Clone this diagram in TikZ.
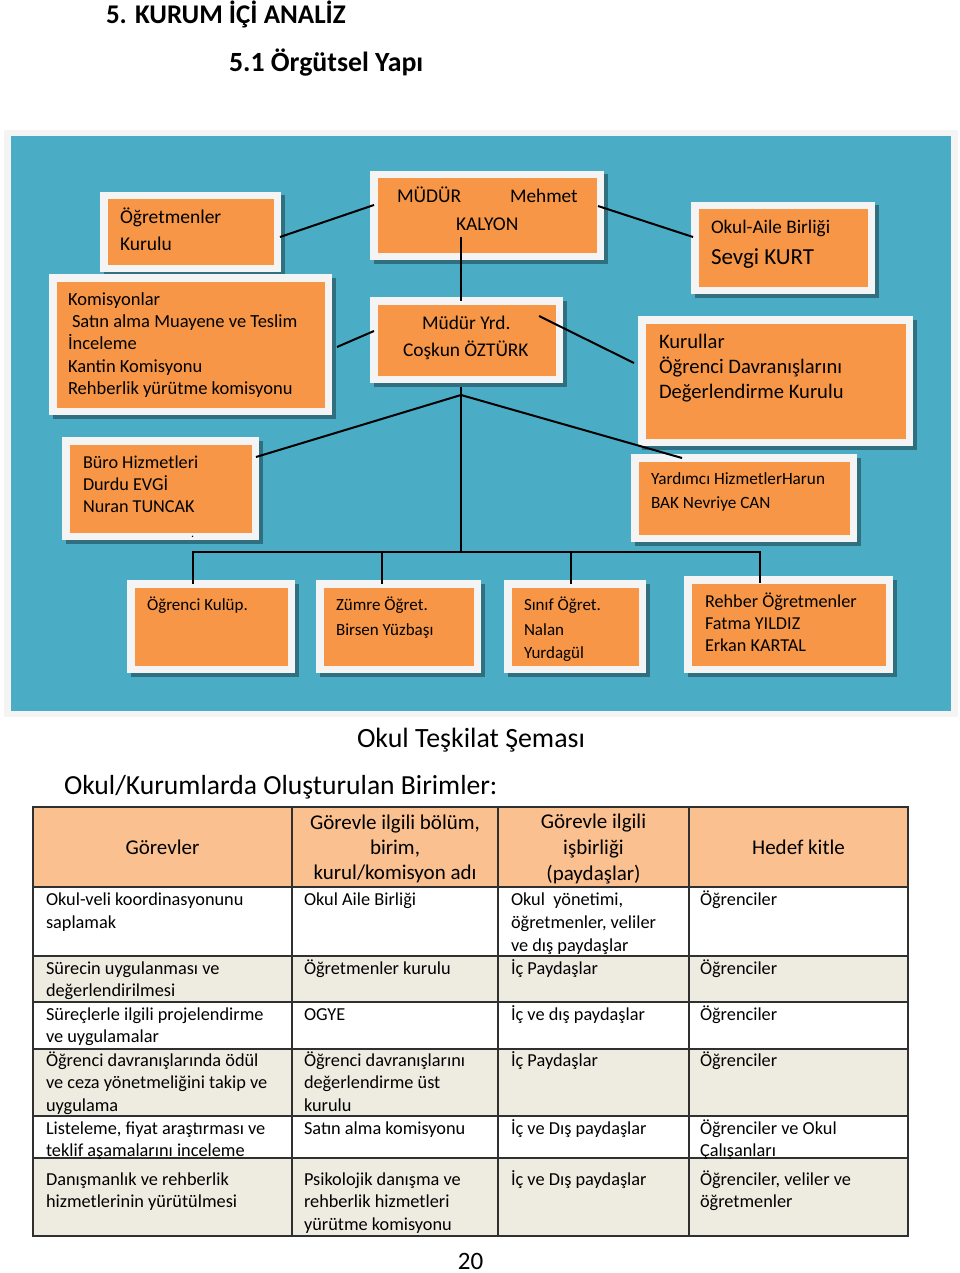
\documentclass[tikz,border=0pt]{standalone}
\usepackage{fontspec}
\setmainfont{Carlito}
\usetikzlibrary{calc}
\definecolor{bg}{HTML}{4BACC6}
\definecolor{org}{HTML}{F79646}
\definecolor{frm}{HTML}{F4F4F4}
\definecolor{hdr}{HTML}{FAC08F}
\definecolor{beige}{HTML}{EEECE1}
\definecolor{gridc}{HTML}{303030}
\newcommand\fs[1]{\fontsize{#1}{#1}\selectfont}
\tikzset{
  tx/.style={anchor=base west, inner sep=0pt, outer sep=0pt, text=black, font=\fs{18.3}},
  th/.style={anchor=base, inner sep=0pt, outer sep=0pt, text=black, font=\fs{21}},
  obox/.style={fill=org, draw=frm, line width=7.5pt},
  conn/.style={draw=black, line width=2pt},
  shd/.style={fill=black, opacity=.35},
  gridl/.style={draw=gridc, line width=1.5pt},
}
\newcommand\orgbox[5]{%
  \fill[shd] (#2+3.5,#3+3.5) rectangle (#4+3.5,#5+3.5);
  \node[obox, minimum width={#4-#2-7.5}, minimum height={#5-#3-7.5}] (#1) at ({(#2+#4)/2},{(#3+#5)/2}) {};
}
\begin{document}
\begin{tikzpicture}[x=1pt,y=-1pt]
\useasboundingbox (0,0) rectangle (960,1273);
\fill[white] (0,0) rectangle (960,1273);

% titles
\node[tx, font=\bfseries\fs{27}] (h1) at (106,24) {5. KURUM İÇİ ANALİZ};
\node[tx, font=\bfseries\fs{27.8}] (h2) at (229,72) {5.1 Örgütsel Yapı};

% chart background
\fill[frm] (4,130) rectangle (958,717);
\fill[bg] (11,136) rectangle (951,711);

% boxes
\orgbox{ogr}{100}{192}{281}{272}
\orgbox{mud}{370}{171}{604}{260}
\orgbox{oab}{691}{202}{875}{294}
\orgbox{kom}{49}{274}{332}{415}
\orgbox{yrd}{370}{297}{563}{383}
\orgbox{kur}{638}{316}{913}{446}
\orgbox{buro}{62}{437}{259}{540}
\orgbox{yard}{631}{454}{857}{542}
\orgbox{kul}{127}{580}{295}{673}
\orgbox{zum}{316}{580}{481}{673}
\orgbox{sin}{504}{580}{646}{673}
\orgbox{reh}{684}{576}{893}{673}

% box texts
\node[tx, font=\fs{19.5}] (t-ogr1) at (120,224) {Öğretmenler};
\node[tx, font=\fs{19.5}] (t-ogr2) at (120,251) {Kurulu};
\node[tx, font=\fs{19.5}] (t-mud1) at (397,203) {MÜDÜR};
\node[tx, font=\fs{19.3}] (t-mud2) at (510,203) {Mehmet};
\node[tx, font=\fs{19.5}] (t-mud3) at (456,230) {KALYON};
\node[tx, font=\fs{19.2}] (t-oab1) at (711,234) {Okul-Aile Birliği};
\node[tx, font=\fs{23}] (t-oab2) at (711,264) {Sevgi KURT};
\node[tx, font=\fs{18.5}] (t-kom1) at (68,305) {Komisyonlar};
\node[tx, font=\fs{18.5}] (t-kom2) at (72,327) {Satın alma Muayene ve Teslim};
\node[tx, font=\fs{18.5}] (t-kom3) at (68,349.5) {İnceleme};
\node[tx, font=\fs{18.5}] (t-kom4) at (68,372) {Kantin Komisyonu};
\node[tx, font=\fs{18.5}] (t-kom5) at (68,394.5) {Rehberlik yürütme komisyonu};
\node[tx, font=\fs{19.4}] (t-yrd1) at (422,329) {Müdür Yrd.};
\node[tx, font=\fs{19.4}] (t-yrd2) at (403,356.5) {Coşkun ÖZTÜRK};
\node[tx, font=\fs{20.6}] (t-kur1) at (659,348) {Kurullar};
\node[tx, font=\fs{20.6}] (t-kur2) at (659,373) {Öğrenci Davranışlarını};
\node[tx, font=\fs{20.6}] (t-kur3) at (659,398) {Değerlendirme Kurulu};
\node[tx, font=\fs{18.2}] (t-buro1) at (83,468) {Büro Hizmetleri};
\node[tx, font=\fs{18.2}] (t-buro2) at (83,490) {Durdu EVGİ};
\node[tx, font=\fs{18.2}] (t-buro3) at (83,512.5) {Nuran TUNCAK};
\node[tx, font=\fs{12}] (t-dot) at (191,537) {.};
\node[tx, font=\fs{17.2}] (t-yard1) at (651,484) {Yardımcı HizmetlerHarun};
\node[tx, font=\fs{17.2}] (t-yard2) at (651,508) {BAK Nevriye CAN};
\node[tx, font=\fs{17}] (t-kul1) at (147,610.5) {Öğrenci Kulüp.};
\node[tx, font=\fs{17}] (t-zum1) at (336,610.5) {Zümre Öğret.};
\node[tx, font=\fs{17}] (t-zum2) at (336,635) {Birsen Yüzbaşı};
\node[tx, font=\fs{17}] (t-sin1) at (524,610.5) {Sınıf Öğret.};
\node[tx, font=\fs{17}] (t-sin2) at (524,635) {Nalan};
\node[tx, font=\fs{17}] (t-sin3) at (524,658) {Yurdagül};
\node[tx, font=\fs{18.2}] (t-reh1) at (705,607.5) {Rehber Öğretmenler};
\node[tx, font=\fs{18.2}] (t-reh2) at (705,629.5) {Fatma YILDIZ};
\node[tx, font=\fs{18.2}] (t-reh3) at (705,651.5) {Erkan KARTAL};

% connectors
\draw[conn] ($(ogr.east)+(-1,5)$) -- ($(mud.west)+(4,-10.5)$);
\draw[conn] ($(mud.east)+(-6,-9.5)$) -- ($(oab.west)+(2,-11)$);
\draw[conn] ($(mud.south)+(-26,-23)$) -- ($(yrd.north)+(-5.5,4)$);
\draw[conn] ($(kom.east)+(5,2.5)$) -- ($(yrd.west)+(4,-9)$);
\draw[conn] ($(yrd.east)+(-24,-24)$) -- ($(kur.west)+(-4,-18)$);
\coordinate (hub) at ($(yrd.south)+(-5.5,12)$);
\coordinate (bus) at ($(yrd.south)+(-5.5,169)$);
\draw[conn] ($(yrd.south)+(-5.5,4)$) -- (bus);
\draw[conn] ($(buro.east)+(-3,-31.5)$) -- (hub) -- ($(yard.north west)+(51,4)$);
\draw[conn] ($(kul.north)+(-18,4)$) |- (bus) -| ($(reh.north)+(-28.5,7)$);
\draw[conn] ($(zum.north)+(-16.5,4)$) -- ++(0,-32);
\draw[conn] ($(sin.north)+(-4,4)$) -- ++(0,-32);

% captions
\node[tx, font=\fs{27.9}] (cap1) at (357,747) {Okul Teşkilat Şeması};
\node[tx, font=\fs{27.6}] (cap2) at (64,794) {Okul/Kurumlarda Oluşturulan Birimler:};

% table
\fill[hdr] (33,807) rectangle (908,887);
\fill[beige] (33,956) rectangle (908,1002);
\fill[beige] (33,1049) rectangle (908,1116);
\fill[beige] (33,1158) rectangle (908,1236);
\draw[gridl] (33,807) rectangle (908,1236);
\foreach \yy in {887,956,1002,1049,1116,1158} \draw[gridl] (33,\yy) -- (908,\yy);
\foreach \xx in {292,498,689} \draw[gridl] (\xx,807) -- (\xx,1236);

\node[th] (h-c1) at (162.5,854) {Görevler};
\node[th] (h-c2a) at (395,829) {Görevle ilgili bölüm,};
\node[th] (h-c2b) at (395,854) {birim,};
\node[th] (h-c2c) at (395,879) {kurul/komisyon adı};
\node[th] (h-c3a) at (593.5,828) {Görevle ilgili};
\node[th] (h-c3b) at (593.5,854) {işbirliği};
\node[th] (h-c3c) at (593.5,880) {(paydaşlar)};
\node[th] (h-c4) at (798.5,854) {Hedef kitle};

% row 1
\node[tx] (r1a1) at (46,905) {Okul-veli koordinasyonunu};
\node[tx] (r1a2) at (46,928) {saplamak};
\node[tx] (r1b1) at (304,905) {Okul Aile Birliği};
\node[tx] (r1c1) at (511,905) {Okul\ \ yönetimi,};
\node[tx] (r1c2) at (511,928) {öğretmenler, veliler};
\node[tx] (r1c3) at (511,951) {ve dış paydaşlar};
\node[tx] (r1d1) at (700,905) {Öğrenciler};
% row 2
\node[tx] (r2a1) at (46,974) {Sürecin uygulanması ve};
\node[tx] (r2a2) at (46,996) {değerlendirilmesi};
\node[tx] (r2b1) at (304,974) {Öğretmenler kurulu};
\node[tx] (r2c1) at (511,974) {İç Paydaşlar};
\node[tx] (r2d1) at (700,974) {Öğrenciler};
% row 3
\node[tx] (r3a1) at (46,1020) {Süreçlerle ilgili projelendirme};
\node[tx] (r3a2) at (46,1042) {ve uygulamalar};
\node[tx] (r3b1) at (304,1020) {OGYE};
\node[tx] (r3c1) at (511,1020) {İç ve dış paydaşlar};
\node[tx] (r3d1) at (700,1020) {Öğrenciler};
% row 4
\node[tx] (r4a1) at (46,1066) {Öğrenci davranışlarında ödül};
\node[tx] (r4a2) at (46,1088.5) {ve ceza yönetmeliğini takip ve};
\node[tx] (r4a3) at (46,1111) {uygulama};
\node[tx] (r4b1) at (304,1066) {Öğrenci davranışlarını};
\node[tx] (r4b2) at (304,1088.5) {değerlendirme üst};
\node[tx] (r4b3) at (304,1111) {kurulu};
\node[tx] (r4c1) at (511,1066) {İç Paydaşlar};
\node[tx] (r4d1) at (700,1066) {Öğrenciler};
% row 5
\node[tx] (r5a1) at (46,1134) {Listeleme, fiyat araştırması ve};
\node[tx] (r5a2) at (46,1156.5) {teklif aşamalarını inceleme};
\node[tx] (r5b1) at (304,1134) {Satın alma komisyonu};
\node[tx] (r5c1) at (511,1134) {İç ve Dış paydaşlar};
\node[tx] (r5d1) at (700,1134) {Öğrenciler ve Okul};
\node[tx] (r5d2) at (700,1156.5) {Çalışanları};
% row 6
\node[tx] (r6a1) at (46,1185) {Danışmanlık ve rehberlik};
\node[tx] (r6a2) at (46,1207.5) {hizmetlerinin yürütülmesi};
\node[tx] (r6b1) at (304,1185) {Psikolojik danışma ve};
\node[tx] (r6b2) at (304,1207.5) {rehberlik hizmetleri};
\node[tx] (r6b3) at (304,1230) {yürütme komisyonu};
\node[tx] (r6c1) at (511,1185) {İç ve Dış paydaşlar};
\node[tx] (r6d1) at (700,1185) {Öğrenciler, veliler ve};
\node[tx] (r6d2) at (700,1207.5) {öğretmenler};

% page number
\node[th, font=\fs{25}] (pg) at (470.5,1269) {20};
\end{tikzpicture}
\end{document}
